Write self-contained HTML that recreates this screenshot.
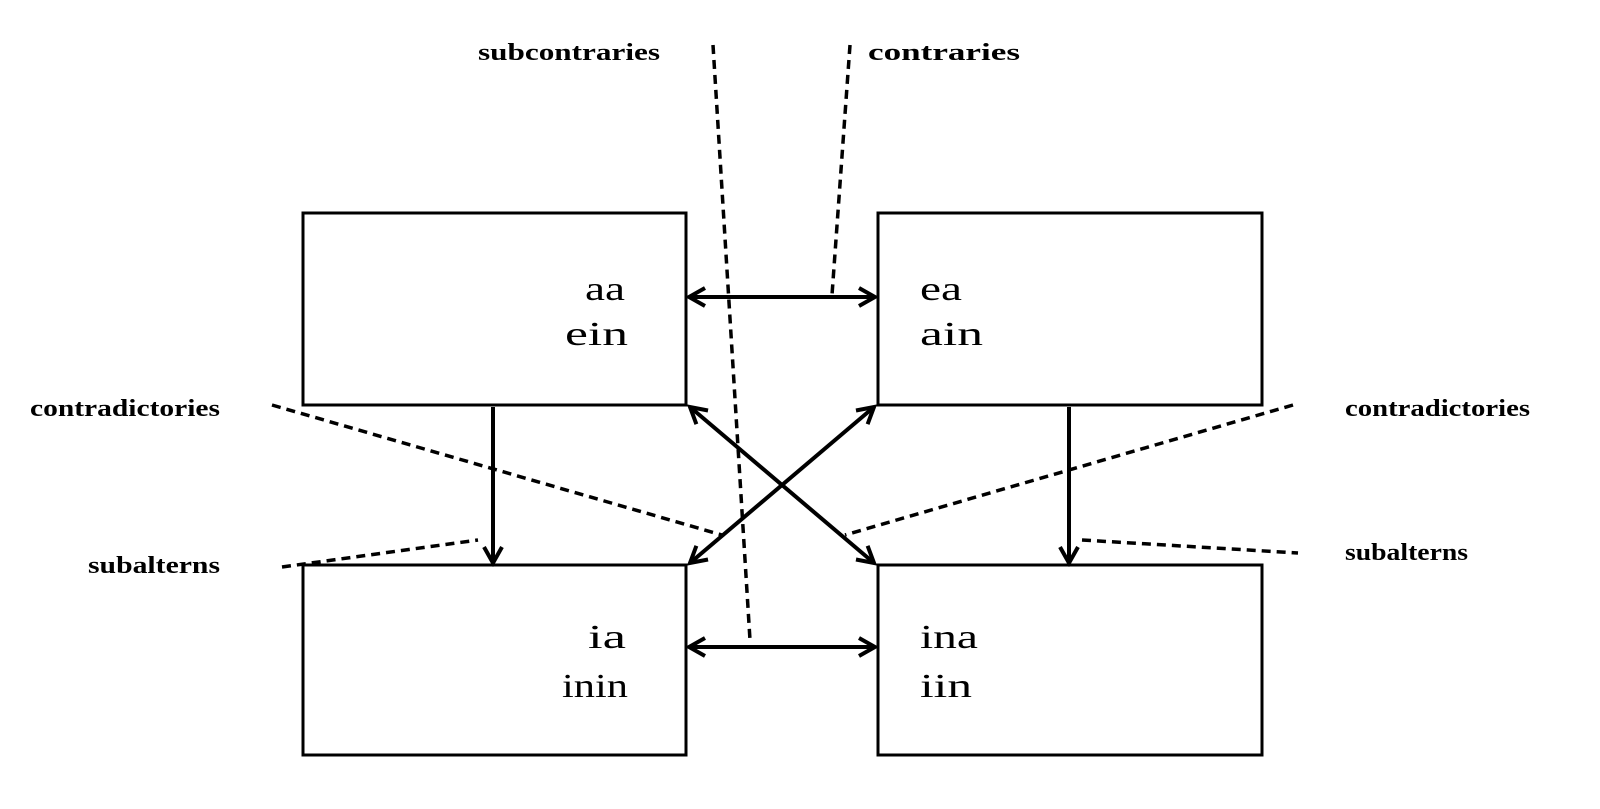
<!DOCTYPE html>
<html><head><meta charset="utf-8"><style>
html,body{margin:0;padding:0;background:#fff;}
svg{display:block}
text{font-family:"Liberation Serif",serif;fill:#000;}
.lbl{font-size:24px;font-weight:bold}
.bx{font-size:34px}
</style></head><body>
<svg width="1600" height="809" viewBox="0 0 1600 809">
<defs>
<marker id="ah" markerWidth="22" markerHeight="22" refX="18" refY="11" orient="auto-start-reverse" markerUnits="userSpaceOnUse" viewBox="0 0 22 22">
<path d="M2,2 L18,11 L2,20" fill="none" stroke="#000" stroke-width="4"/>
</marker>
</defs>
<g fill="none" stroke="#000" stroke-width="3">
<rect x="303" y="213" width="383" height="192"/>
<rect x="878" y="213" width="384" height="192"/>
<rect x="303" y="565" width="383" height="190"/>
<rect x="878" y="565" width="384" height="190"/>
</g>
<g stroke="#000" stroke-width="4" fill="none">
<line x1="689" y1="297" x2="875" y2="297" marker-start="url(#ah)" marker-end="url(#ah)"/>
<line x1="689" y1="647" x2="875" y2="647" marker-start="url(#ah)" marker-end="url(#ah)"/>
<line x1="493" y1="407" x2="493" y2="563" marker-end="url(#ah)"/>
<line x1="1069" y1="407" x2="1069" y2="563" marker-end="url(#ah)"/>
<line x1="690" y1="407" x2="874" y2="563" marker-start="url(#ah)" marker-end="url(#ah)"/>
<line x1="874" y1="407" x2="690" y2="563" marker-start="url(#ah)" marker-end="url(#ah)"/>
</g>
<g stroke="#000" stroke-width="3.5" fill="none" stroke-dasharray="9,6">
<line x1="713" y1="45" x2="750" y2="640"/>
<line x1="850" y1="45" x2="832" y2="295"/>
<line x1="272" y1="405" x2="722" y2="535"/>
<line x1="1293" y1="405" x2="845" y2="535"/>
<line x1="282" y1="567" x2="478" y2="540"/>
<line x1="1082" y1="540" x2="1298" y2="553"/>
</g>
<text class="lbl" x="478" y="60" textLength="182" lengthAdjust="spacingAndGlyphs">subcontraries</text>
<text class="lbl" x="868" y="60" textLength="152" lengthAdjust="spacingAndGlyphs">contraries</text>
<text class="lbl" x="30" y="416" textLength="190" lengthAdjust="spacingAndGlyphs">contradictories</text>
<text class="lbl" x="1345" y="416" textLength="185" lengthAdjust="spacingAndGlyphs">contradictories</text>
<text class="lbl" x="88" y="573" textLength="132" lengthAdjust="spacingAndGlyphs">subalterns</text>
<text class="lbl" x="1345" y="560" textLength="123" lengthAdjust="spacingAndGlyphs">subalterns</text>
<text class="bx" x="585" y="300" textLength="40" lengthAdjust="spacingAndGlyphs">aa</text>
<text class="bx" x="565" y="345" textLength="63" lengthAdjust="spacingAndGlyphs">ein</text>
<text class="bx" x="920" y="300" textLength="42" lengthAdjust="spacingAndGlyphs">ea</text>
<text class="bx" x="920" y="345" textLength="63" lengthAdjust="spacingAndGlyphs">ain</text>
<text class="bx" x="588" y="648" textLength="38" lengthAdjust="spacingAndGlyphs">ia</text>
<text class="bx" x="562" y="697" textLength="66" lengthAdjust="spacingAndGlyphs">inin</text>
<text class="bx" x="920" y="648" textLength="58" lengthAdjust="spacingAndGlyphs">ina</text>
<text class="bx" x="920" y="697" textLength="52" lengthAdjust="spacingAndGlyphs">iin</text>
</svg>
</body></html>
